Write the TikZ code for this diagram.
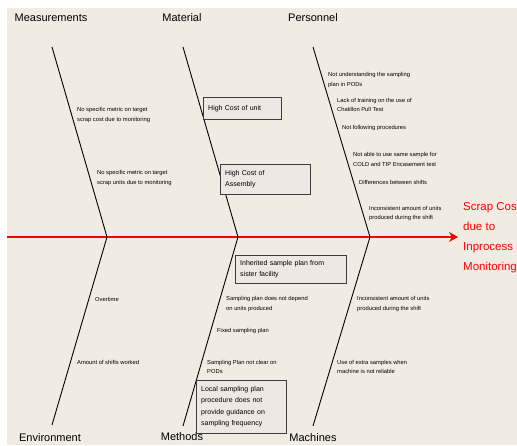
\documentclass[tikz,border=0pt]{standalone}
\usepackage{fontspec}
\setmainfont{Liberation Sans}
\usetikzlibrary{arrows.meta}

\definecolor{paper}{HTML}{F0ECE3}
\definecolor{boxfill}{HTML}{EEE7E4}
\definecolor{boxline}{HTML}{3C3C3C}

\tikzset{
  cause/.style={font=\fontsize{5.8}{9.8}\selectfont, align=left, anchor=west, inner sep=0pt},
  causebox/.style={draw=boxline, fill=boxfill, font=\fontsize{7}{11.5}\selectfont,
    align=left, anchor=north west, inner xsep=5pt, inner ysep=0pt},
  bonehead/.style={font=\fontsize{11}{13}\selectfont, inner sep=0pt},
  bone/.style={black, line width=0.9pt},
  effect/.style={red, font=\fontsize{11.5}{20}\selectfont, align=left, anchor=west, inner sep=0pt},
}

\begin{document}
\begin{tikzpicture}[x=1pt,y=-1pt]
\useasboundingbox (0,0) rectangle (517,445);
\fill[paper] (7,8) rectangle (517,445);

% spine
\coordinate (tail) at (7,237);
\coordinate (head) at (458,237);
\coordinate (j1) at (107,237);
\coordinate (j2) at (238,237);
\coordinate (j3) at (370,237);
\draw[red, line width=1.3pt, -{Stealth[length=9pt,width=10pt]}] (tail) -- (head);
\node[effect] (effect) at (463,238) {Scrap Cost\\due to\\Inprocess\\Monitoring};

% bones
\node[bonehead] (meas) at (51,18) {Measurements};
\node[bonehead] (matl) at (182,18) {Material};
\node[bonehead] (pers) at (313,18) {Personnel};
\node[bonehead] (envi) at (50,438) {Environment};
\node[bonehead] (meth) at (182,437) {Methods};
\node[bonehead] (mach) at (313,438) {Machines};

\coordinate (measEnd) at (52,47);
\coordinate (matlEnd) at (183,47);
\coordinate (persEnd) at (313,47);
\coordinate (enviEnd) at (52,425);
\coordinate (methEnd) at (183,426);
\coordinate (machEnd) at (313,426);

\draw[bone] (measEnd) -- (j1) -- (enviEnd);
\draw[bone] (matlEnd) -- (j2) -- (methEnd);
\draw[bone] (persEnd) -- (j3) -- (machEnd);

% measurements
\node[cause] (meas1) at (77,115) {No specific metric on target\\scrap cost due to monitoring};
\node[cause] (meas2) at (97,178) {No specific metric on target\\scrap units due to monitoring};

% material
\node[causebox, text width=68pt, minimum height=22pt] (matl1) at (203,97) {High Cost of unit};
\node[causebox, text width=80pt, minimum height=30pt] (matl2) at (220,164) {High Cost of\\Assembly};

% personnel
\node[cause] (pers1) at (328,80) {Not understanding the sampling\\plan in PODs};
\node[cause] (pers2) at (337,105) {Lack of training on the use of\\Chatillon Pull Test};
\node[cause] (pers3) at (342,128) {Not following procedures};
\node[cause] (pers4) at (353,159.5) {Not able to use same sample for\\COLD and TIP Encasement test};
\node[cause] (pers5) at (359,182) {Differences between shifts};
\node[cause] (pers6) at (369,213.5) {Inconsistent amount of units\\produced during the shift};

% environment
\node[cause] (envi1) at (95,299) {Overtime};
\node[cause] (envi2) at (77,362) {Amount of shifts worked};

% methods
\node[causebox, text width=101pt, minimum height=28pt] (meth1) at (235,255) {Inherited sample plan from\\sister facility};
\node[cause] (meth2) at (226,304) {Sampling plan does not depend\\on units produced};
\node[cause] (meth3) at (217,331) {Fixed sampling plan};
\node[cause] (meth4) at (207,367) {Sampling Plan not clear on\\PODs};
\node[causebox, text width=80pt, minimum height=53pt] (meth5) at (196,380) {Local sampling plan\\procedure does not\\provide guidance on\\sampling frequency};

% machines
\node[cause] (mach1) at (357,304) {Inconsistent amount of units\\produced during the shift};
\node[cause] (mach2) at (337,367) {Use of extra samples when\\machine is not reliable};

\end{tikzpicture}
\end{document}
